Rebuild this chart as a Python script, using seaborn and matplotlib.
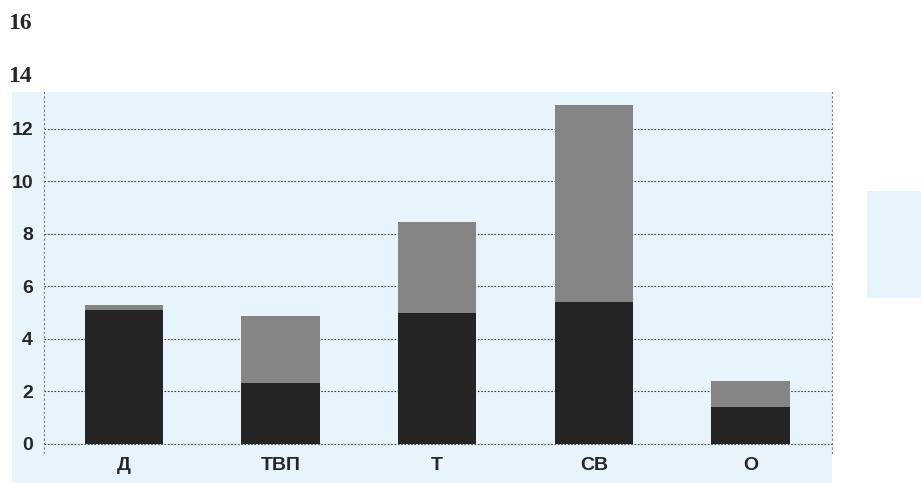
import matplotlib
matplotlib.use('Agg')
import matplotlib.pyplot as plt
import matplotlib.patches as mpatches
import matplotlib.transforms as mtransforms
import seaborn as sns
import pandas as pd

# данные столбцов (снизу тёмная часть, сверху светлая)
categories = ['Д', 'ТВП', 'Т', 'СВ', 'О']
bottom_vals = [5.1, 2.3, 5.0, 5.4, 1.4]
total_vals = [5.3, 4.85, 8.45, 12.9, 2.4]
yticks = [0, 2, 4, 6, 8, 10, 12]
extra_ticks = [14, 16]

sns.set_style("white")
plt.rcParams['font.family'] = ['Liberation Sans', 'DejaVu Sans']

fig = plt.figure(figsize=(9.21, 4.83), dpi=100)
fig.patch.set_facecolor('white')

# светло-голубой фон (скан)
fig.patches.append(mpatches.Rectangle((12 / 921, 0), 820 / 921, 391 / 483,
                                      transform=fig.transFigure, facecolor='#e8f4fc',
                                      edgecolor='none', zorder=-5))
fig.patches.append(mpatches.Rectangle((867 / 921, 185 / 483), 54 / 921, 107 / 483,
                                      transform=fig.transFigure, facecolor='#e8f4fc',
                                      edgecolor='none', zorder=-5))

ax = fig.add_axes([44 / 921, 30 / 483, 788 / 921, 361 / 483])
ax.patch.set_alpha(0)

df = pd.DataFrame({'cat': categories, 'bottom': bottom_vals, 'total': total_vals})
sns.barplot(data=df, x='cat', y='total', color='#858585', width=0.5,
            saturation=1, linewidth=0, ax=ax, zorder=3)
sns.barplot(data=df, x='cat', y='bottom', color='#242424', width=0.5,
            saturation=1, linewidth=0, ax=ax, zorder=3)

ax.set_xlim(-0.51, 4.52)
ax.set_ylim(-0.35, 13.4)
ax.set_yticks(yticks)
ax.set_yticklabels([str(t) for t in yticks])
ax.yaxis.grid(True, linestyle=(0, (1.5, 1.5)), color='#444444', linewidth=0.8)
ax.set_axisbelow(True)
ax.set_xlabel('')
ax.set_ylabel('')
ax.tick_params(axis='both', length=0, labelsize=14)
ax.tick_params(axis='y', pad=8)
ax.tick_params(axis='x', pad=3)
for lab in ax.get_xticklabels() + ax.get_yticklabels():
    lab.set_fontweight('bold')

for side in ['top', 'bottom']:
    ax.spines[side].set_visible(False)
for side in ['left', 'right']:
    ax.spines[side].set_linestyle((0, (1, 3)))
    ax.spines[side].set_color('#777777')
    ax.spines[side].set_linewidth(0.8)

# подписи 14 и 16 над сканом
trans = mtransforms.blended_transform_factory(fig.transFigure, ax.transData)
for t in extra_ticks:
    ax.text(8 / 921, t, str(t), transform=trans, ha='left', va='center',
            fontsize=17, fontweight='bold', family=['Liberation Serif', 'DejaVu Serif'],
            clip_on=False)

fig.savefig('out.png', dpi=100)
